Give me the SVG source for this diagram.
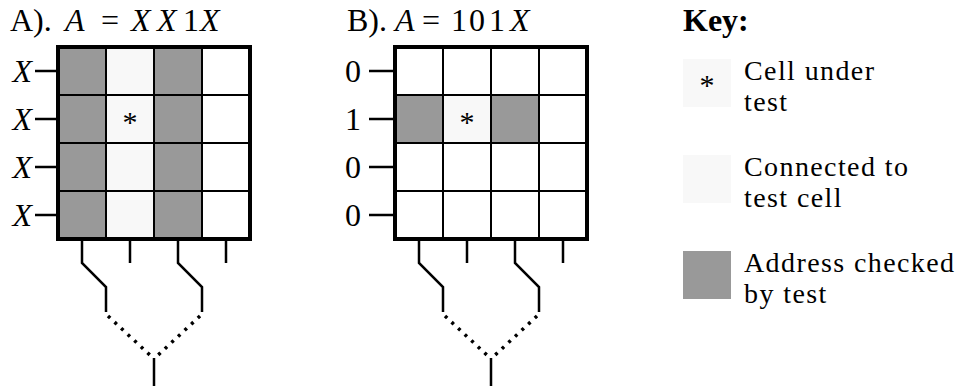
<svg xmlns="http://www.w3.org/2000/svg" width="961" height="386" viewBox="0 0 961 386">
<style>
text{font-family:"Liberation Serif","Times New Roman",serif;fill:#000;font-size:32px}
.it{font-style:italic}
.key{font-size:28px;letter-spacing:1.4px}
.bold{font-weight:bold}
.g{fill:#999999}
.l{fill:#f8f8f8}
.w{fill:#ffffff}
.inner{stroke:#000;stroke-width:2;fill:none}
.outer{stroke:#000;stroke-width:4;fill:none}
.tick{stroke:#000;stroke-width:2.5;fill:none}
.dot{stroke:#000;stroke-width:3.5;fill:none;stroke-dasharray:3 6}
.ast{font-size:30px}
</style>
<rect width="961" height="386" fill="#fff"/>

<g id="gridA">
  <text x="10" y="31">A).</text>
  <text x="65" y="31" class="it">A</text>
  <text x="101" y="31">=</text>
  <text y="31"><tspan x="131" class="it">X</tspan><tspan x="157" class="it">X</tspan><tspan x="183">1</tspan><tspan x="200" class="it">X</tspan></text>
  <rect x="58" y="47" width="48" height="192" class="g"/>
  <rect x="106" y="47" width="48" height="192" class="l"/>
  <rect x="154" y="47" width="48" height="192" class="g"/>
  <rect x="202" y="47" width="48" height="192" class="w"/>
  <path class="inner" d="M106 47V239M154 47V239M202 47V239M58 95H250M58 143H250M58 191H250"/>
  <rect x="58" y="47" width="192" height="192" class="outer"/>
  <text x="130" y="132" class="ast" text-anchor="middle">*</text>
  <g class="tick"><path d="M35 71H57M35 119H57M35 167H57M35 215H57"/></g>
  <text x="32" y="82" class="it" text-anchor="end">X</text>
  <text x="32" y="130" class="it" text-anchor="end">X</text>
  <text x="32" y="178" class="it" text-anchor="end">X</text>
  <text x="32" y="226" class="it" text-anchor="end">X</text>
</g>

<g id="gridB">
  <text x="347" y="31">B).</text>
  <text x="395" y="31" class="it">A</text>
  <text x="422" y="31">=</text>
  <text y="31"><tspan x="451">1</tspan><tspan x="469">0</tspan><tspan x="489">1</tspan><tspan x="510" class="it">X</tspan></text>
  <rect x="395" y="47" width="192" height="192" class="w"/>
  <rect x="395" y="95" width="48" height="48" class="g"/>
  <rect x="443" y="95" width="48" height="48" class="l"/>
  <rect x="491" y="95" width="48" height="48" class="g"/>
  <path class="inner" d="M443 47V239M491 47V239M539 47V239M395 95H587M395 143H587M395 191H587"/>
  <rect x="395" y="47" width="192" height="192" class="outer"/>
  <text x="467" y="132" class="ast" text-anchor="middle">*</text>
  <g class="tick"><path d="M369 71H394M369 119H394M369 167H394M369 215H394"/></g>
  <text x="361" y="82" text-anchor="end">0</text>
  <text x="361" y="130" text-anchor="end">1</text>
  <text x="361" y="178" text-anchor="end">0</text>
  <text x="361" y="226" text-anchor="end">0</text>
</g>

<g id="connectors">
  <path class="tick" d="M82 241V263L106 287V312M130 241V263M178 241V263L202 287V312M226 241V263M154 358V386"/>
  <path class="dot" d="M108 316L152 357M200 316L156 357"/>
  <path class="tick" d="M419 241V263L443 287V312M467 241V263M515 241V263L539 287V312M563 241V263M491 358V386"/>
  <path class="dot" d="M445 316L489 357M537 316L493 357"/>
</g>

<g id="key">
  <text x="683" y="31" class="bold">Key:</text>
  <g id="key-cell">
    <rect x="683" y="59" width="48" height="48" class="l"/>
    <text x="707" y="95" class="ast" text-anchor="middle">*</text>
    <text class="key"><tspan x="744" y="80">Cell under</tspan><tspan x="744" y="111">test</tspan></text>
  </g>
  <g id="key-connected">
    <rect x="683" y="155" width="48" height="48" class="l"/>
    <text class="key"><tspan x="744" y="176">Connected to</tspan><tspan x="744" y="207">test cell</tspan></text>
  </g>
  <g id="key-address">
    <rect x="683" y="251" width="48" height="48" class="g"/>
    <text class="key"><tspan x="744" y="272">Address checked</tspan><tspan x="744" y="303">by test</tspan></text>
  </g>
</g>
</svg>
